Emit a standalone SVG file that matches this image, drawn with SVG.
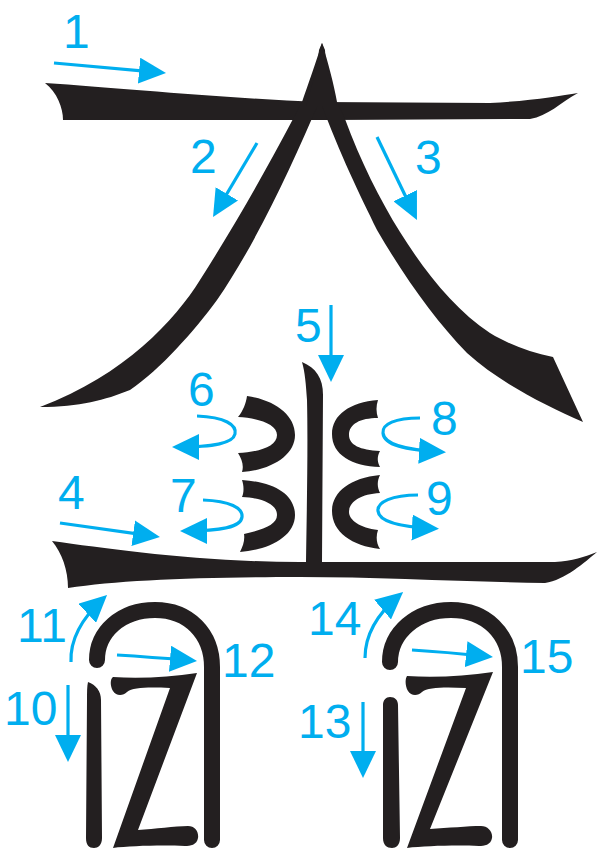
<svg xmlns="http://www.w3.org/2000/svg" width="599" height="850" viewBox="0 0 599 850">
<defs>
<style>
.ink{fill:#231F20}
.inks{fill:none;stroke:#231F20;stroke-width:16;stroke-linecap:round;stroke-linejoin:round}
.arr{fill:none;stroke:#00AEEF;stroke-width:3.2;marker-end:url(#ah)}
.lbl{fill:#00AEEF;font-family:"Liberation Sans",Arial,sans-serif;font-size:48px}
</style>
<marker id="ah" markerUnits="userSpaceOnUse" markerWidth="27" markerHeight="26" viewBox="0 0 27 26" refX="22" refY="13" orient="auto">
<path d="M0,0 L27,13 L0,26 Z" fill="#00AEEF"/>
</marker>
</defs>
<rect width="599" height="850" fill="#fff"/>
<g id="glyph">
<g id="stroke1"><path class="ink" d="M45,83 C120,88 220,98 320,102 L490,103 C530,101 560,96 578,93 C560,103 548,116 530,119 L330,120 L63,120 C63,108 57,92 45,83 Z"/></g>
<g id="stroke2"><path class="ink" d="M322,43 C316,62 308,85 302,102 L293,119 C265,172 235,225 200,280 C175,320 125,375 40,407 C80,407 105,400 130,390 C160,370 195,330 217,300 C255,245 290,170 320,100 L328,100 L325,50 Z"/></g>
<g id="stroke3"><path class="ink" d="M322,43 C328,62 334,85 337,102 L345,119 C360,160 380,200 400,232 C425,272 455,310 490,333 C510,345 530,352 553,357 L583,422 C545,405 500,383 467,353 C435,320 405,278 377,230 C360,195 340,155 320,100 L314,100 L319,50 Z"/></g>
<g id="apex"><path class="ink" d="M322,50 L306,106 L337,106 Z"/></g>
<g id="stroke4"><path class="ink" d="M52,541 C110,549 200,562 300,562 L555,562 C572,561 585,557 597,552 C585,562 565,580 545,583 C470,582 380,577 300,577 C200,577 120,580 68,588 C68,570 62,553 52,541 Z"/></g>
<g id="stroke5"><path class="ink" d="M302,362 C316,368 323,378 323,395 L322,562 L306,562 C307,500 308,440 307,400 C306,385 305,372 302,362 Z"/></g>
<g id="stroke6"><path class="ink" d="M247,396 C275,400 295,415 295,435 C295,455 272,470 242,472 C244,466 242,459 238,453 C258,452 277,447 277,435 C277,424 258,418 238,417 C243,411 246,403 247,396 Z"/></g>
<g id="stroke7"><path class="ink" d="M242,480 C275,482 295,495 295,515 C295,537 268,550 240,552 C243,546 245,540 244,534 C262,530 277,525 277,515 C277,504 262,498 242,497 C244,492 244,486 242,480 Z"/></g>
<g id="stroke8"><path class="ink" d="M378,400 C350,402 332,415 332,434 C332,455 352,466 380,467 C377,462 377,456 380,451 C360,450 349,445 349,435 C349,424 360,418 378,418 C376,412 376,406 378,400 Z"/></g>
<g id="stroke9"><path class="ink" d="M380,475 C350,478 332,492 332,511 C332,532 352,546 380,549 C376,543 376,536 378,530 C360,528 349,520 349,512 C349,502 360,494 380,493 C377,487 377,481 380,475 Z"/></g>
<g id="stroke10"><path class="ink" d="M88,682 C96,685 101,691 101,700 L102,838 C102,845 98,848 94,848 C89,848 86,845 86,838 L87,700 C87,692 87,686 88,682 Z"/></g>
<g id="stroke11-12"><path class="inks" d="M97,660 C97,632 121,610 155,610 C189,610 212,634 212,667 L212,840"/>
<path class="ink" d="M113,677 C140,679 170,677 197,673 L138,830 C155,829 175,826 188,826 C195,826 199,832 198,838 C197,845 190,846 185,846 C160,845 130,846 113,848 L170,688 C150,687 133,687 127,692 C123,696 116,696 113,691 C110,686 110,679 113,677 Z"/></g>
<g id="stroke13"><path class="ink" d="M383,705 C383,700 386,697 390,697 C395,697 398,700 398,705 L400,838 C400,845 396,848 392,848 C387,848 383,845 383,838 Z"/></g>
<g id="stroke14-15"><path class="inks" d="M390,662 C390,633 416,610 451,610 C486,610 510,634 510,667 L510,840"/>
<path class="ink" d="M407,676 C435,678 465,676 493,672 L430,829 C448,828 468,826 481,826 C488,826 493,832 492,838 C491,845 484,846 479,846 C455,845 425,846 407,848 L466,688 C446,687 428,687 422,692 C418,696 411,696 408,691 C405,686 405,679 407,676 Z"/></g>
</g>
<g id="connectors">
<path class="arr" d="M54,63 L161,72.6"/>
<path class="arr" d="M257,143 L215.6,212.7"/>
<path class="arr" d="M377,137 L414.8,215.5"/>
<path class="arr" d="M60,523 L155,536.3"/>
<path class="arr" d="M331,305 L331,377"/>
<path class="arr" d="M197,416 C225,417 237,425 235,434 C233,443 215,447 177,447"/>
<path class="arr" d="M203,500 C230,501 243,508 242,517 C241,527 222,531 185,531"/>
<path class="arr" d="M420,418 C395,418 382,424 383,433 C384,445 405,450 441,452"/>
<path class="arr" d="M418,495 C392,495 377,502 378,511 C379,522 400,527 434,528.5"/>
<path class="arr" d="M68,685 L68,757"/>
<path class="arr" d="M71,662 C70,640 80,620 103.4,598.4"/>
<path class="arr" d="M117,655 Q150,657 192,660.5"/>
<path class="arr" d="M363,702 L363,773"/>
<path class="arr" d="M365,658 C365,636 375,616 399.3,595.3"/>
<path class="arr" d="M412,650 Q445,652 488,656.5"/>
</g>
<g id="labels">
<text class="lbl" x="63" y="48">1</text>
<text class="lbl" x="190" y="173">2</text>
<text class="lbl" x="415" y="174">3</text>
<text class="lbl" x="58" y="509">4</text>
<text class="lbl" x="295" y="342">5</text>
<text class="lbl" x="188" y="406">6</text>
<text class="lbl" x="170" y="512">7</text>
<text class="lbl" x="431" y="435">8</text>
<text class="lbl" x="426" y="515">9</text>
<text class="lbl" x="4" y="725">10</text>
<text class="lbl" x="17" y="642">11</text>
<text class="lbl" x="222" y="677">12</text>
<text class="lbl" x="298" y="738">13</text>
<text class="lbl" x="308" y="635">14</text>
<text class="lbl" x="520" y="673">15</text>
</g>
</svg>
